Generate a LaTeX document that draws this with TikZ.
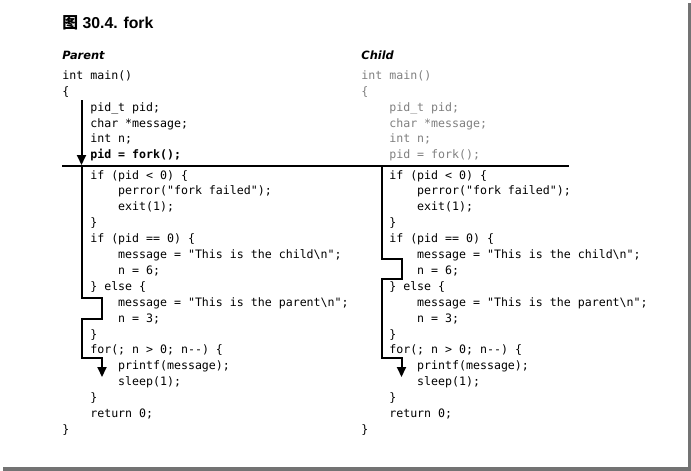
\documentclass[tikz,border=0pt]{standalone}
\usepackage{fontspec}
\setmainfont{Liberation Sans}
\setsansfont{DejaVu Sans}
\setmonofont{DejaVu Sans Mono}
\newfontfamily\cjk{Noto Sans CJK SC}
\usetikzlibrary{arrows.meta}

\begin{document}
\begin{tikzpicture}[x=1pt,y=-1pt,thick]
\tikzstyle{figtitle} = [anchor=base west, inner sep=0, font=\fontsize{15.8}{18}\selectfont\bfseries]
\tikzstyle{head} = [anchor=base west, inner sep=0, font=\sffamily\fontsize{11.4}{14}\selectfont\bfseries\itshape]
\tikzstyle{code} = [anchor=base west, inner sep=0, font=\ttfamily\fontsize{11.6}{14}\selectfont]
\tikzstyle{faded} = [code, text=black!50]
\tikzstyle{flow} = [draw, line width=2, -{Triangle[width=9pt,length=10pt]}]
\tikzstyle{divider} = [draw, line width=2]

% page with its shadow
\fill[white] (0,0) rectangle (691,471);
\fill[black!55] (687.5,3) rectangle (691,471);
\fill[black!55] (3,467) rectangle (691,471);

\node[figtitle] (title) at (62,28.3) {{\cjk\bfseries 图} 30.4. fork};
\node[head] (parent) at (62,59) {Parent};
\node[head] (child) at (361,59) {Child};

% before fork()
\foreach \col/\x/\st in {p/62/code, c/361/faded}
  \foreach \i/\txt [count=\k from 0] in {0/int main(), 0/\{, 1/pid\_t pid;, 1/char *message;, 1/int n;}
    \node[\st] (\col u\k) at (\x+27.9*\i, 79.5+15.85*\k) {\txt};
\node[code] (pu5) at (89.9,158.75) {\bfseries pid = fork();};
\node[faded] (cu5) at (388.9,158.75) {pid = fork();};

% after fork()
\foreach \col/\x in {p/62, c/361}
  \foreach \i/\txt [count=\k from 0] in {1/if (pid < 0) \{, 2/perror("fork failed");, 2/exit(1);, 1/\},
      1/if (pid == 0) \{, 2/message = "This is the child\textbackslash n";, 2/n = 6;, 1/\} else \{,
      2/message = "This is the parent\textbackslash n";, 2/n = 3;, 1/\}, 1/for(; n > 0; n-{}-) \{,
      2/printf(message);, 2/sleep(1);, 1/\}, 1/return 0;, 0/\}}
    \node[code] (\col l\k) at (\x+27.9*\i, 179+15.9*\k) {\txt};

\coordinate (sepL) at (62,166);
\coordinate (sepR) at (569,166);
\coordinate (ptop) at (81.5,100);
\coordinate (pfork) at (81.5,165);
\coordinate (pgo) at (81.8,167);
\coordinate (pend) at (102,377);
\coordinate (cgo) at (381.8,167);
\coordinate (cend) at (401.5,377);

\path[divider] (sepL) -- (sepR);
\path[flow] (ptop) -- (pfork);
\path[flow] (pgo) -- (81.8,298) -- (102,298) -- (102,319) -- (81.8,319)
  -- (81.8,358) -- (102,358) -- (pend);
\path[flow] (cgo) -- (381.8,258.5) -- (401.5,258.5) -- (401.5,279) -- (381.8,279)
  -- (381.8,358) -- (401.5,358) -- (cend);
\end{tikzpicture}
\end{document}
